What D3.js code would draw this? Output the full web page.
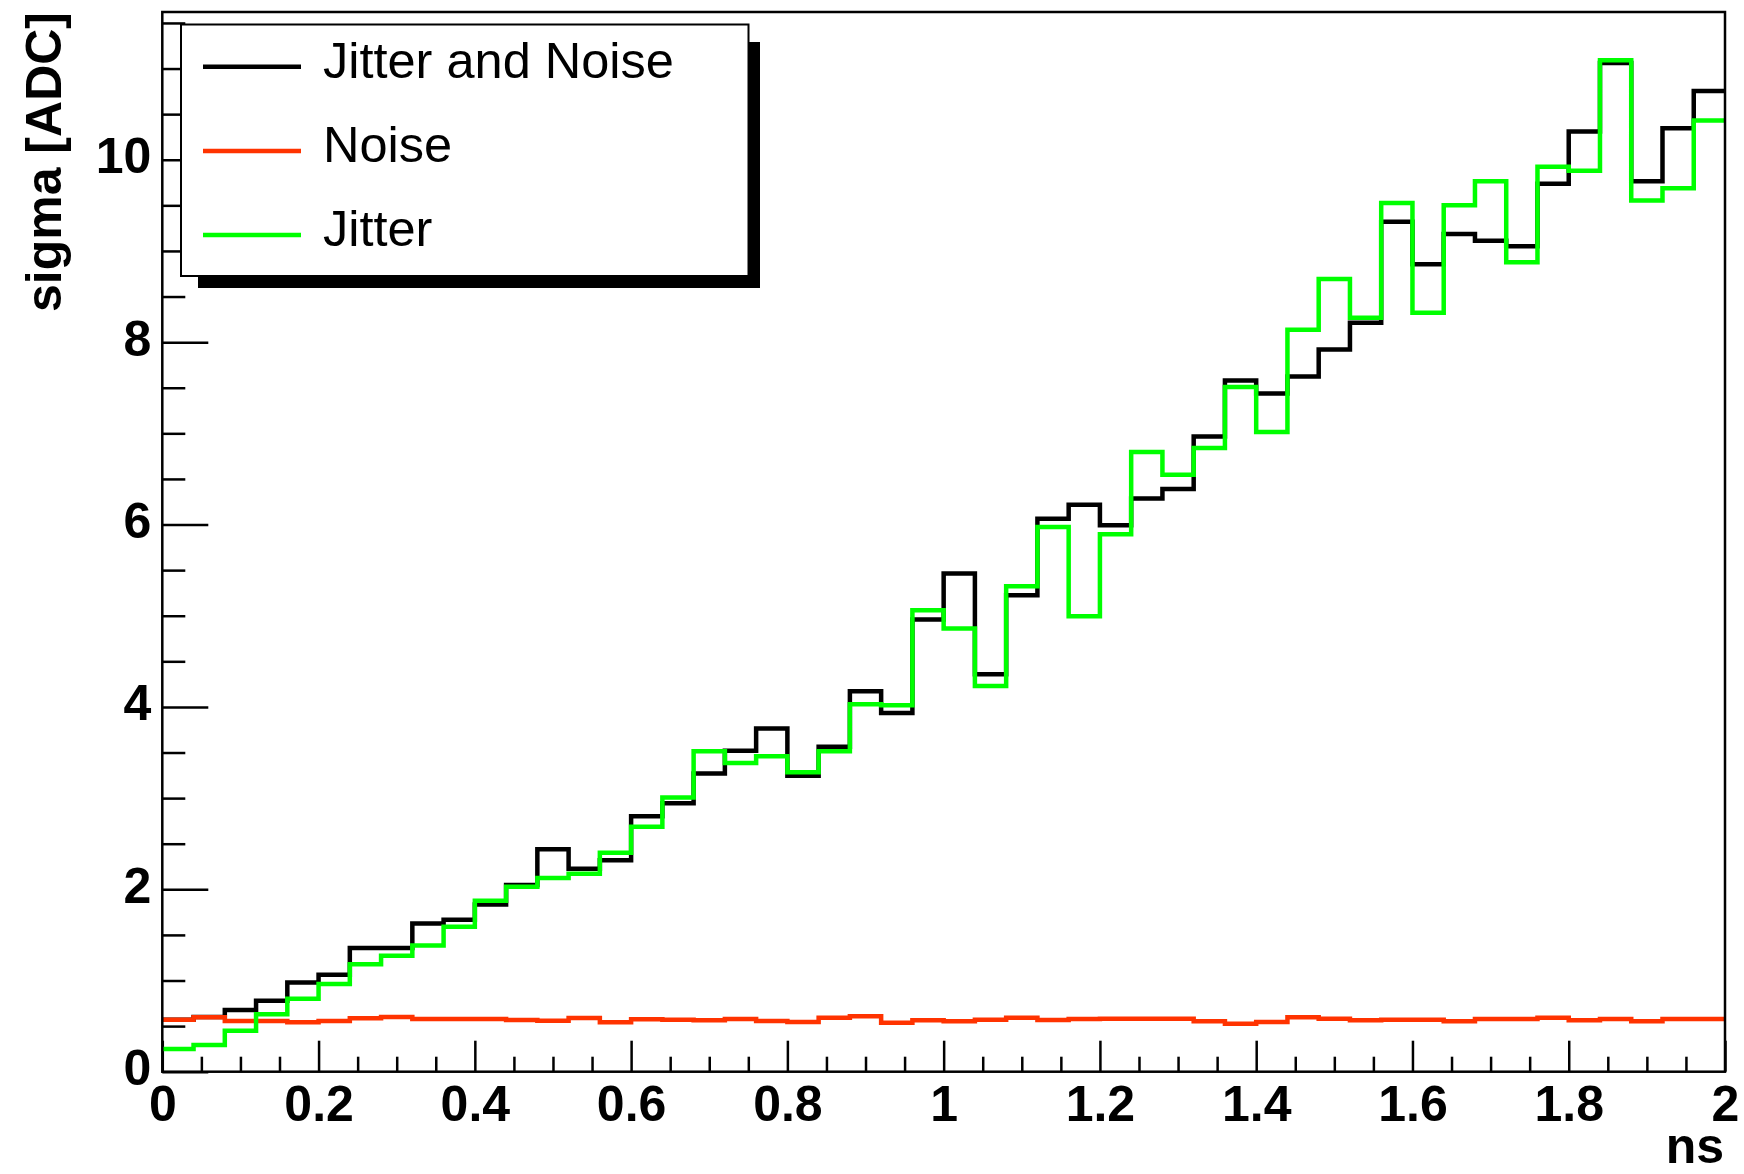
<!DOCTYPE html>
<html lang="en">
<head>
  <meta charset="UTF-8">
  <title>sigma vs ns</title>
  <script src="https://d3js.org/d3.v7.min.js"></script>
  <style>
    body { margin: 0; background: #fff; }
    svg { display: block; background: #fff; }
    .tick text { font-family: "Liberation Sans", Arial, sans-serif; font-weight: bold; font-size: 50px; fill: #000; }
    .tick line { stroke: #000; stroke-width: 2.5px; }
    .title { font-family: "Liberation Sans", Arial, sans-serif; font-weight: bold; font-size: 50px; }
    .leg text { font-family: "Liberation Sans", Arial, sans-serif; font-size: 50.5px; }
    .hist { fill: none; stroke-width: 4.5px; stroke-linejoin: miter; }
  </style>
</head>
<body>
  <svg id="chart" width="1744" height="1174"></svg>

  <script>
    // 50 bins between 0 and 2 ns
    const xRange = [0, 2];
    const binWidth = 0.04;
    const jitterNoise = [0.57, 0.60, 0.676, 0.778, 0.979, 1.063, 1.356, 1.356, 1.626, 1.666,
      1.834, 2.047, 2.440, 2.225, 2.320, 2.800, 2.945, 3.270, 3.518, 3.763,
      3.244, 3.562, 4.172, 3.934, 4.958, 5.462, 4.358, 5.224, 6.064, 6.218,
      5.991, 6.284, 6.390, 6.966, 7.580, 7.438, 7.624, 7.920, 8.212, 9.320,
      8.855, 9.186, 9.113, 9.052, 9.737, 10.31, 11.06, 9.765, 10.345, 10.755];
    const noise = [0.570, 0.596, 0.556, 0.556, 0.541, 0.556, 0.585, 0.599, 0.577, 0.577,
      0.577, 0.567, 0.559, 0.588, 0.541, 0.574, 0.570, 0.563, 0.577, 0.556,
      0.545, 0.592, 0.607, 0.537, 0.563, 0.552, 0.570, 0.592, 0.567, 0.577,
      0.581, 0.581, 0.581, 0.552, 0.526, 0.545, 0.596, 0.581, 0.563, 0.570,
      0.570, 0.552, 0.577, 0.577, 0.592, 0.563, 0.577, 0.552, 0.577, 0.577];
    const jitter = [0.249, 0.293, 0.449, 0.629, 0.800, 0.961, 1.177, 1.271, 1.385, 1.589,
      1.874, 2.027, 2.123, 2.170, 2.400, 2.685, 3.007, 3.514, 3.386, 3.460,
      3.284, 3.514, 4.029, 4.018, 5.060, 4.859, 4.230, 5.323, 5.973, 4.994,
      5.893, 6.795, 6.547, 6.839, 7.507, 7.014, 8.136, 8.691, 8.267, 9.525,
      8.322, 9.500, 9.765, 8.875, 9.924, 9.880, 11.09, 9.553, 9.688, 10.43];

    const xMajorTicks = [0, 0.2, 0.4, 0.6, 0.8, 1, 1.2, 1.4, 1.6, 1.8, 2];
    const yMajorTicks = [0, 2, 4, 6, 8, 10];
    const yMax = 11.62;

    const series = [
      { name: 'Jitter and Noise', color: '#000000', values: jitterNoise },
      { name: 'Noise', color: '#ff3300', values: noise },
      { name: 'Jitter', color: '#00ff00', values: jitter }
    ];

    const W = 1744, H = 1174;
    const m = { left: 162.3, right: 19, top: 12, bottom: 102.3 };
    const svg = d3.select('#chart');

    const x = d3.scaleLinear().domain(xRange).range([m.left, W - m.right]);
    const y = d3.scaleLinear().domain([0, yMax]).range([H - m.bottom, m.top]);

    const fmt = d => String(+d.toFixed(2));

    // minor ticks
    const xMinor = d3.range(0, 40).map(i => i * 0.05).filter(v => Math.abs(v / 0.2 - Math.round(v / 0.2)) > 1e-6);
    const yMinor = d3.range(0, 24).map(i => i * 0.5).filter(v => v % 2 !== 0 && v < yMax);

    svg.append('g').attr('transform', `translate(0,${H - m.bottom})`)
      .call(d3.axisBottom(x).tickValues(xMinor).tickSize(-15).tickSizeOuter(0).tickFormat(''))
      .call(g => g.select('.domain').remove());
    svg.append('g').attr('transform', `translate(0,${H - m.bottom})`)
      .call(d3.axisBottom(x).tickValues(xMajorTicks).tickSize(-31).tickSizeOuter(0).tickPadding(14).tickFormat(fmt))
      .call(g => g.select('.domain').remove());

    svg.append('g').attr('transform', `translate(${m.left},0)`)
      .call(d3.axisLeft(y).tickValues(yMinor).tickSize(-23).tickSizeOuter(0).tickFormat(''))
      .call(g => g.select('.domain').remove());
    svg.append('g').attr('transform', `translate(${m.left},0)`)
      .call(d3.axisLeft(y).tickValues(yMajorTicks).tickSize(-46).tickSizeOuter(0).tickPadding(11).tickFormat(fmt))
      .call(g => g.select('.domain').remove())
      .call(g => g.selectAll('text').attr('dy', '0.26em'));

    // histograms as steps
    const edges = d3.range(jitter.length + 1).map(i => xRange[0] + i * binWidth);
    const step = d3.line().x(d => x(d[0])).y(d => y(d[1])).curve(d3.curveStepAfter);
    series.forEach(s => {
      const pts = s.values.map((v, i) => [edges[i], v]);
      pts.push([edges[edges.length - 1], s.values[s.values.length - 1]]);
      svg.append('path').attr('class', 'hist').attr('stroke', s.color).attr('d', step(pts));
    });

    // frame
    svg.append('rect')
      .attr('x', m.left).attr('y', m.top)
      .attr('width', W - m.right - m.left).attr('height', H - m.bottom - m.top)
      .attr('fill', 'none').attr('stroke', '#000').attr('stroke-width', 2.5);

    // axis titles
    svg.append('text').attr('class', 'title')
      .attr('x', W - m.right - 1).attr('y', 1163).attr('text-anchor', 'end').text('ns');
    svg.append('text').attr('class', 'title')
      .attr('transform', 'translate(61,12) rotate(-90)').attr('text-anchor', 'end').text('sigma [ADC]');

    // legend with shadow
    const leg = svg.append('g').attr('class', 'leg');
    leg.append('rect').attr('x', 198).attr('y', 42).attr('width', 562).attr('height', 246).attr('fill', '#000');
    leg.append('rect').attr('x', 181).attr('y', 24.5).attr('width', 567.5).attr('height', 251.5)
      .attr('fill', '#fff').attr('stroke', '#000').attr('stroke-width', 2);
    series.forEach((s, i) => {
      const cy = 66.7 + i * 84.2;
      leg.append('line').attr('x1', 203).attr('x2', 301).attr('y1', cy).attr('y2', cy)
        .attr('stroke', s.color).attr('stroke-width', 4.5);
      leg.append('text').attr('x', 323).attr('y', cy + 11).text(s.name);
    });
  </script>
</body>
</html>
